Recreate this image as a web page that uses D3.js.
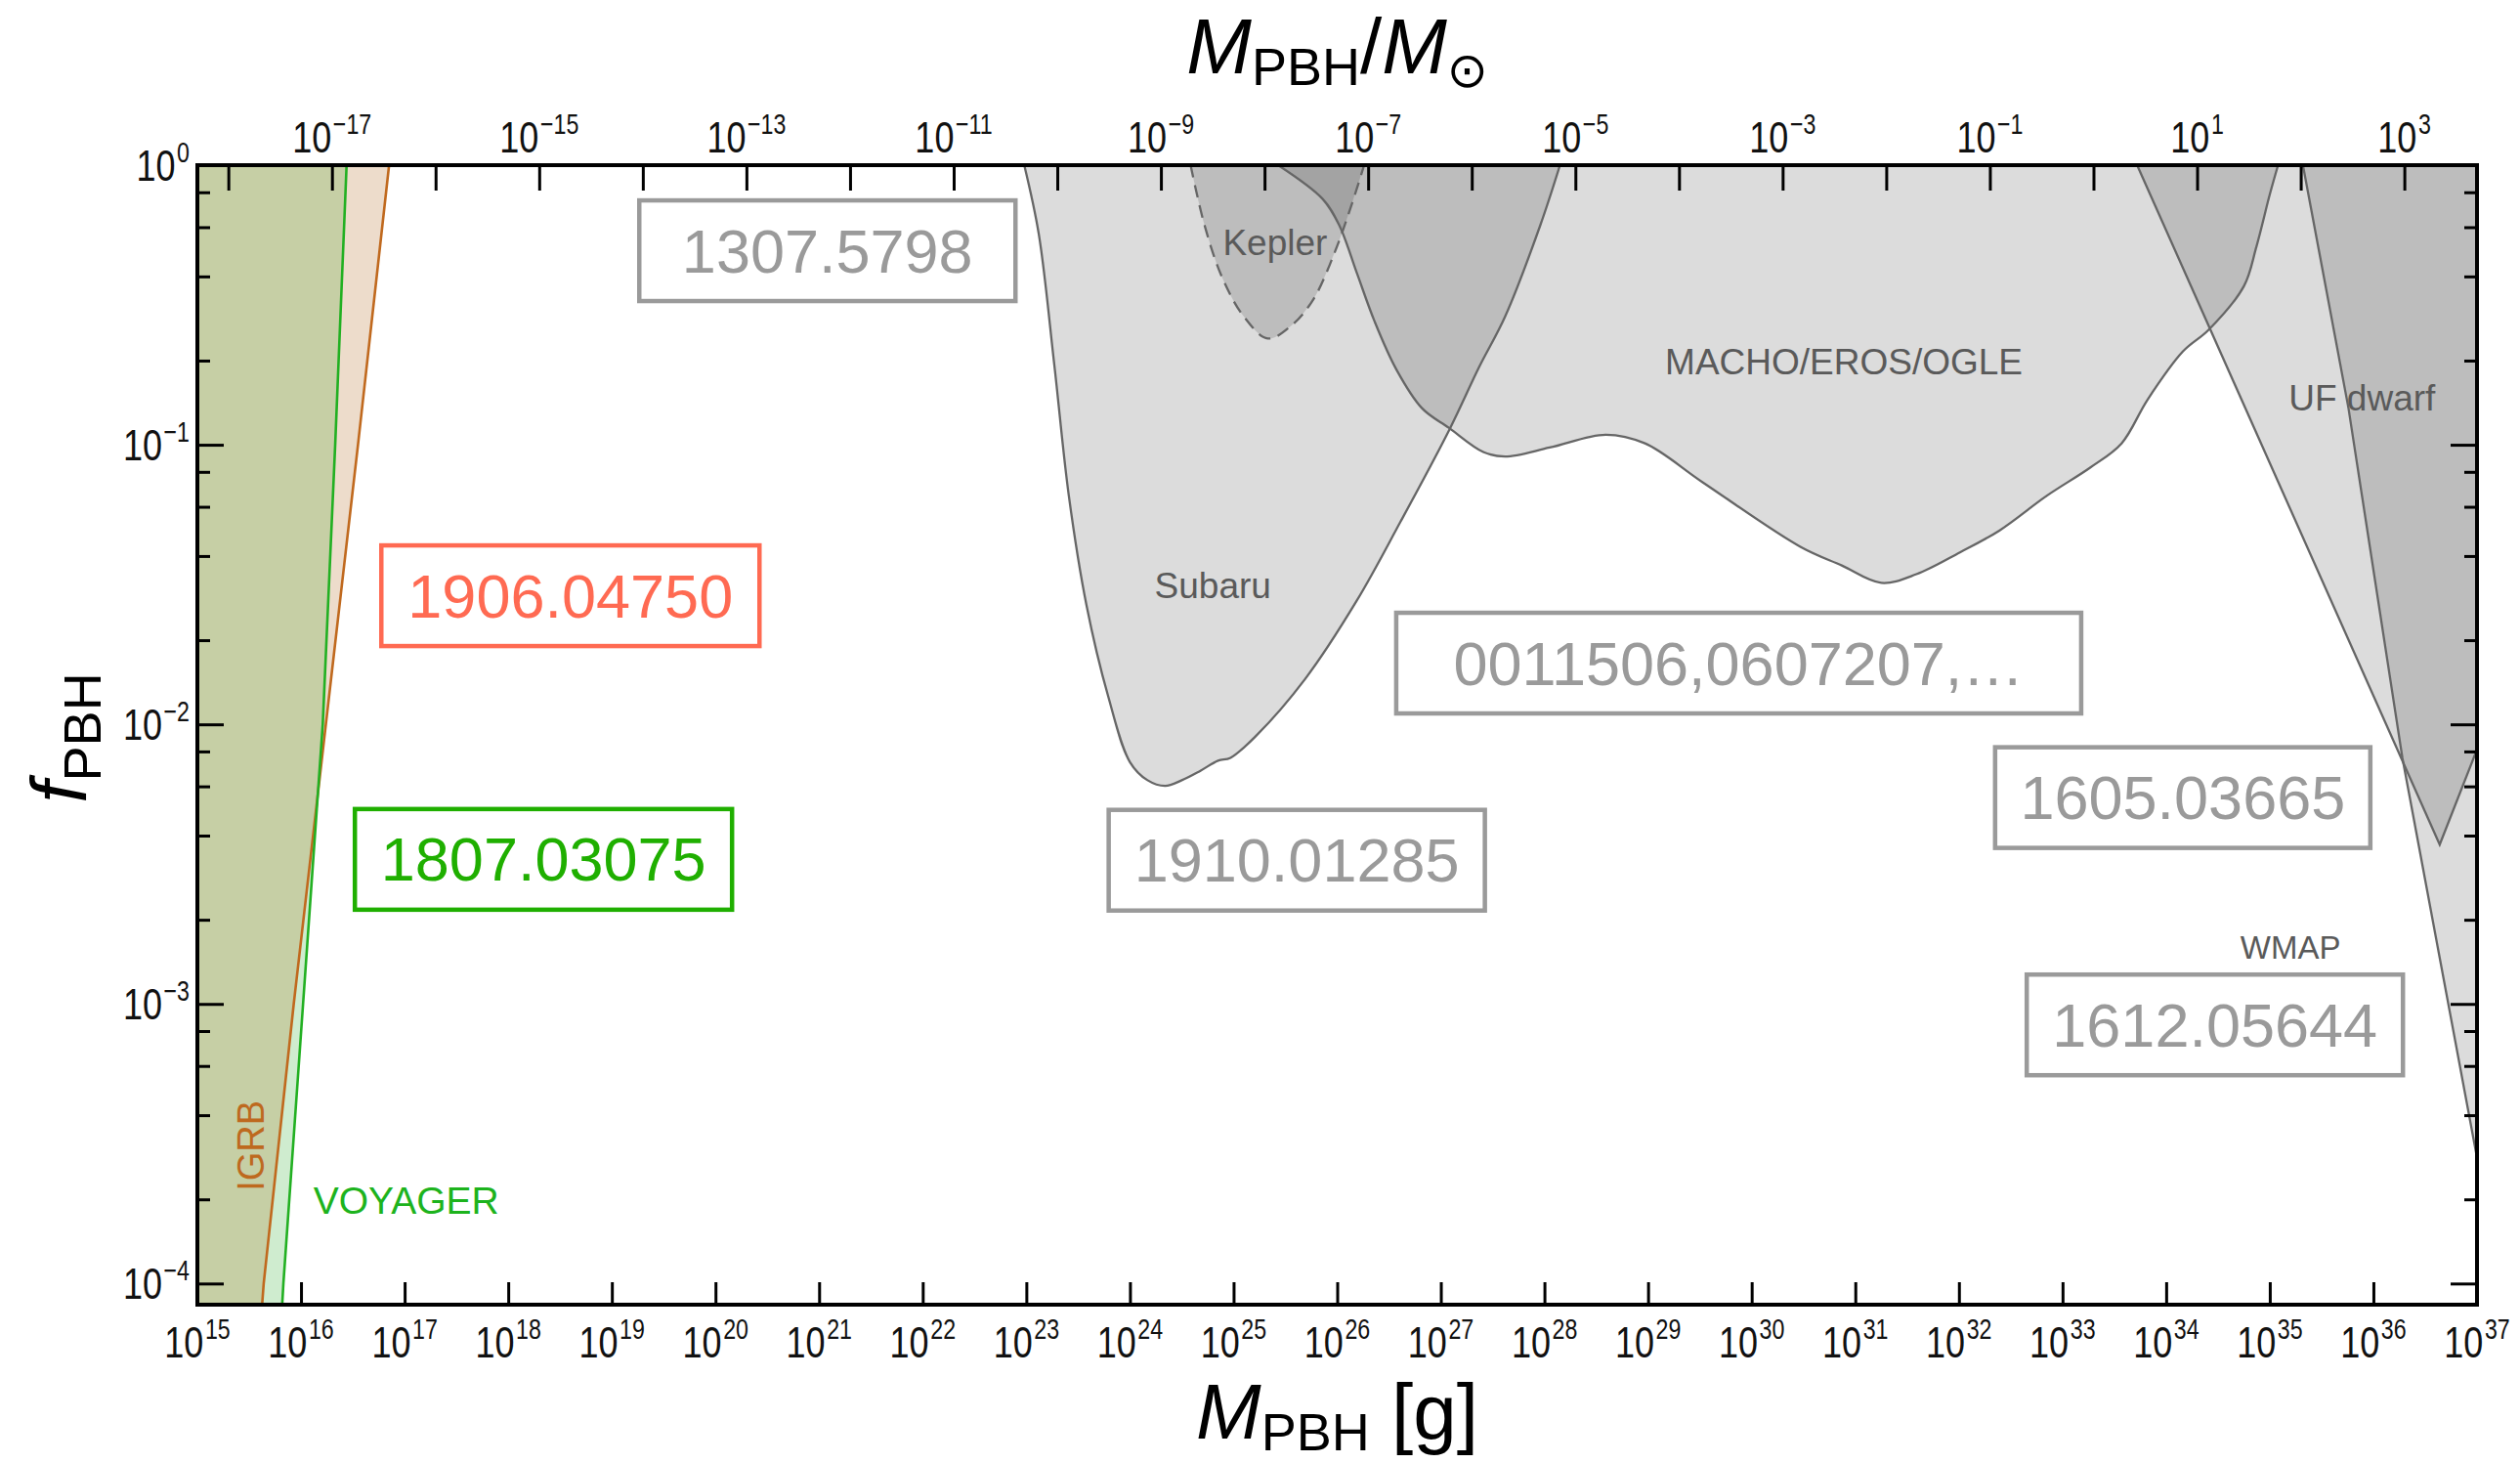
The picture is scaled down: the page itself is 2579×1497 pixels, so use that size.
<!DOCTYPE html>
<html>
<head>
<meta charset="utf-8">
<script src="https://cdn.jsdelivr.net/npm/d3@7"></script>
<style>
  body { margin: 0; background: #fff; }
  svg text { font-family: "Liberation Sans", Arial, Helvetica, sans-serif; }
</style>
</head>
<body>
<div id="chart"></div>
<script>
// Constraint curves as [log10(M/g), log10 f_PBH]
const igrb    = [[15.60, -4.2], [15.64, -4], [15.93, -3], [16.24, -2], [16.55, -1], [16.85, 0]];
const voyager = [[15.80, -4.2], [15.83, -4], [16.02, -3], [16.21, -2], [16.33, -1], [16.44, 0]];
const subaru  = [[22.98, 0], [23.12, -0.246], [23.27, -0.714], [23.41, -1.182], [23.58, -1.573],
                 [23.79, -1.90], [24.00, -2.135], [24.17, -2.20], [24.34, -2.22], [24.50, -2.20],
                 [24.68, -2.166], [24.85, -2.13], [24.97, -2.12], [25.22, -2.04], [25.69, -1.838],
                 [26.19, -1.557], [26.61, -1.276], [27.08, -0.948], [27.37, -0.722], [27.62, -0.542],
                 [27.96, -0.215], [28.15, 0]];
const kepler  = [[24.585, 0], [24.72, -0.215], [24.89, -0.402], [25.10, -0.542], [25.33, -0.62],
                 [25.56, -0.573], [25.77, -0.48], [25.98, -0.308], [26.13, -0.152], [26.26, 0]];
const macho   = [[25.43, 0], [25.86, -0.121], [26.02, -0.215], [26.19, -0.386], [26.36, -0.558],
                 [26.57, -0.73], [26.82, -0.87], [27.08, -0.94], [27.41, -1.026], [27.62, -1.042],
                 [28.05, -1.01], [28.59, -0.964], [28.97, -0.995], [29.53, -1.135], [30.47, -1.365],
                 [30.87, -1.432], [31.25, -1.494], [31.59, -1.463], [32.01, -1.385], [32.39, -1.307],
                 [32.85, -1.182], [33.27, -1.081], [33.57, -0.995], [33.82, -0.839], [34.16, -0.667],
                 [34.41, -0.589], [34.75, -0.433], [34.87, -0.293], [35.00, -0.105], [35.08, 0]];
const ufDwarf = [[33.72, 0], [36.64, -2.43], [37.0, -2.09]];
const wmap    = [[35.32, 0], [35.76, -0.87], [36.28, -2.12], [37.0, -3.55]];

// axis ticks (exponents)
const massExps = [15,16,17,18,19,20,21,22,23,24,25,26,27,28,29,30,31,32,33,34,35,36,37];
const sunExps = [-18,-17,-16,-15,-14,-13,-12,-11,-10,-9,-8,-7,-6,-5,-4,-3,-2,-1,0,1,2,3];
const sunLabelExps = [-17,-15,-13,-11,-9,-7,-5,-3,-1,1,3];
const fExps = [0,-1,-2,-3,-4];
const minorMult = [2,4,6,8];
const fMin = 8.4e-5;
const MSUN = 1.989e33;

// arXiv reference boxes: centre in data coords
const refs = [
  {text: "1307.5798", m: 21.08, f: -0.306, w: 385, color: "#9a9a9a"},
  {text: "1906.04750", m: 18.60, f: -1.540, w: 387, color: "#ff6a52"},
  {text: "1807.03075", m: 18.34, f: -2.483, w: 386, color: "#1faf00"},
  {text: "1910.01285", m: 25.61, f: -2.486, w: 385, color: "#9a9a9a"},
  {text: "0011506,0607207,\u2026", m: 29.875, f: -1.781, w: 701, color: "#9a9a9a"},
  {text: "1605.03665", m: 34.16, f: -2.262, w: 384, color: "#9a9a9a"},
  {text: "1612.05644", m: 34.47, f: -3.075, w: 385, color: "#9a9a9a"}
];

const W = 2579, H = 1497;
const margin = {top: 169, right: 44, bottom: 162, left: 202};
const width = W - margin.left - margin.right,
      height = H - margin.top - margin.bottom;

const x = d3.scaleLog().domain([1e15, 1e37]).range([0, width]);
const xSun = d3.scaleLog().domain([1e15 / MSUN, 1e37 / MSUN]).range([0, width]);
const y = d3.scaleLog().domain([fMin, 1]).range([height, 0]);

const svg = d3.select("#chart").append("svg")
    .attr("width", W)
    .attr("height", H);
const g = svg.append("g")
    .attr("transform", "translate(" + margin.left + "," + margin.top + ")");

g.append("clipPath").attr("id", "plot-clip")
  .append("rect").attr("width", width).attr("height", height);

const px = d => x(10 ** d[0]);
const py = d => y(10 ** d[1]);
const smooth = d3.curveCatmullRom.alpha(0.5);

function areaTop(curve) {
  return d3.area().x(px).y0(0).y1(py).curve(curve);
}
function lineOf(curve) {
  return d3.line().x(px).y(py).curve(curve);
}

const plot = g.append("g").attr("clip-path", "url(#plot-clip)");

// grey exclusion regions, translucent so overlaps darken
const greys = [
  {data: subaru, curve: smooth, dash: null},
  {data: kepler, curve: smooth, dash: "13,8"},
  {data: macho, curve: smooth, dash: null},
  {data: ufDwarf, curve: d3.curveLinear, dash: null},
  {data: wmap, curve: d3.curveLinear, dash: null}
];
greys.forEach(r => {
  plot.append("path")
    .attr("d", areaTop(r.curve)(r.data))
    .attr("fill", "#000")
    .attr("fill-opacity", 0.137);
});
greys.forEach(r => {
  plot.append("path")
    .attr("d", lineOf(r.curve)(r.data))
    .attr("fill", "none")
    .attr("stroke", "#666")
    .attr("stroke-width", 2.3)
    .attr("stroke-dasharray", r.dash);
});

// evaporation bounds on the left
const leftEdge = [[15, -4.2]];
const igrbArea = areaTop(d3.curveLinear)(leftEdge.concat(igrb));
const voyArea = areaTop(d3.curveLinear)(leftEdge.concat(voyager));

g.append("clipPath").attr("id", "igrb-clip")
  .append("path").attr("d", igrbArea);

plot.append("path").attr("d", igrbArea).attr("fill", "#eddccb");
plot.append("path").attr("d", voyArea).attr("fill", "#cfeccf");
plot.append("g").attr("clip-path", "url(#igrb-clip)")
  .append("path").attr("d", voyArea).attr("fill", "#c6cfa5");

plot.append("path")
  .attr("d", lineOf(d3.curveLinear)(igrb))
  .attr("fill", "none").attr("stroke", "#c0691e").attr("stroke-width", 2.6);
plot.append("path")
  .attr("d", lineOf(d3.curveLinear)(voyager))
  .attr("fill", "none").attr("stroke", "#22b022").attr("stroke-width", 2.6);

// region labels
const labels = g.append("g").attr("font-size", 37).attr("fill", "#5a5a5a");
function placeLabel(text, m, f, anchor, size) {
  labels.append("text")
    .attr("x", x(10 ** m)).attr("y", y(10 ** f))
    .attr("text-anchor", anchor || "middle")
    .attr("font-size", size || null)
    .text(text);
}
placeLabel("Kepler", 25.40, -0.322);
placeLabel("Subaru", 24.80, -1.549);
placeLabel("MACHO/EROS/OGLE", 30.89, -0.748);
placeLabel("UF dwarf", 35.89, -0.878);
placeLabel("WMAP", 35.20, -2.839, "middle", 33);

labels.append("text")
  .attr("x", x(10 ** 16.12)).attr("y", y(10 ** -3.752))
  .attr("font-size", 39).attr("fill", "#1db31d")
  .text("VOYAGER");
labels.append("text")
  .attr("transform", "translate(" + x(10 ** 15.641) + "," + y(10 ** -3.507) + ") rotate(-90)")
  .attr("text-anchor", "middle")
  .attr("font-size", 38).attr("fill", "#be691e")
  .text("IGRB");

// reference boxes
const boxH = 103;
refs.forEach(r => {
  const cx = x(10 ** r.m), cy = y(10 ** r.f);
  g.append("rect")
    .attr("x", cx - r.w / 2).attr("y", cy - boxH / 2)
    .attr("width", r.w).attr("height", boxH)
    .attr("fill", "none")
    .attr("stroke", r.color)
    .attr("stroke-width", 4.5);
  g.append("text")
    .attr("x", cx).attr("y", cy + 22)
    .attr("text-anchor", "middle")
    .attr("font-size", 63)
    .attr("fill", r.color)
    .text(r.text);
});

// Axes
function styleAxis(sel) {
  sel.select(".domain").remove();
  sel.selectAll(".tick line").attr("stroke", "#000").attr("stroke-width", 3);
}
const fMajor = fExps.map(e => 10 ** e);
const fMinor = [];
[-5, -4, -3, -2, -1].forEach(e => minorMult.forEach(m => {
  const v = m * 10 ** e;
  if (v > fMin && v < 1) fMinor.push(v);
}));

g.append("g").attr("transform", "translate(0," + height + ")")
  .call(d3.axisBottom(x).tickValues(massExps.map(e => 10 ** e)).tickSize(-23).tickFormat(""))
  .call(styleAxis);
g.append("g")
  .call(d3.axisTop(xSun).tickValues(sunExps.map(e => 10 ** e)).tickSize(-26).tickFormat(""))
  .call(styleAxis);
g.append("g")
  .call(d3.axisLeft(y).tickValues(fMajor).tickSize(-27).tickFormat(""))
  .call(styleAxis);
g.append("g")
  .call(d3.axisLeft(y).tickValues(fMinor).tickSize(-13).tickFormat(""))
  .call(styleAxis);
g.append("g").attr("transform", "translate(" + width + ",0)")
  .call(d3.axisRight(y).tickValues(fMajor).tickSize(-27).tickFormat(""))
  .call(styleAxis);
g.append("g").attr("transform", "translate(" + width + ",0)")
  .call(d3.axisRight(y).tickValues(fMinor).tickSize(-13).tickFormat(""))
  .call(styleAxis);

g.append("rect")
  .attr("width", width).attr("height", height)
  .attr("fill", "none").attr("stroke", "#000").attr("stroke-width", 4);

// tick labels like 10^n
function powerLabel(tx, ty, exp, anchor) {
  const t = g.append("text")
    .attr("transform", "translate(" + tx + "," + ty + ") scale(0.8,1)")
    .attr("text-anchor", anchor)
    .attr("font-size", 45)
    .attr("fill", "#111");
  t.append("tspan").text("10");
  t.append("tspan")
    .attr("font-size", 29)
    .attr("dx", 2)
    .attr("dy", -19)
    .text(exp < 0 ? "\u2212" + (-exp) : exp);
}
massExps.forEach(e => powerLabel(x(10 ** e), height + 54, e, "middle"));
sunLabelExps.forEach(e => powerLabel(xSun(10 ** e), -13, e, "middle"));
fExps.forEach(e => powerLabel(-8, y(10 ** e) + 16, e, "end"));

// axis titles
const bottomTitle = g.append("text")
  .attr("x", width / 2).attr("y", height + 137)
  .attr("text-anchor", "middle").attr("font-size", 80).attr("fill", "#000");
bottomTitle.append("tspan").attr("font-style", "italic").text("M");
bottomTitle.append("tspan").attr("font-size", 54).attr("dy", 12).text("PBH");
bottomTitle.append("tspan").attr("dy", -12).text(" [g]");

const topTitle = g.append("text")
  .attr("x", width / 2).attr("y", -94)
  .attr("text-anchor", "middle").attr("font-size", 80).attr("fill", "#000");
topTitle.append("tspan").attr("font-style", "italic").text("M");
topTitle.append("tspan").attr("font-size", 54).attr("dy", 12).text("PBH");
topTitle.append("tspan").attr("dy", -12).text("/");
topTitle.append("tspan").attr("font-style", "italic").text("M");
topTitle.append("tspan").attr("font-size", 50).attr("dy", 14)
  .style("font-family", "'DejaVu Sans'").text("\u2299");

const leftTitle = g.append("text")
  .attr("transform", "translate(" + (88 - margin.left) + "," + (height / 2 + 3) + ") rotate(-90)")
  .attr("text-anchor", "middle").attr("font-size", 80).attr("fill", "#000");
leftTitle.append("tspan").attr("font-style", "italic").text("f");
leftTitle.append("tspan").attr("font-size", 54).attr("dy", 15).text("PBH");
</script>
</body>
</html>
